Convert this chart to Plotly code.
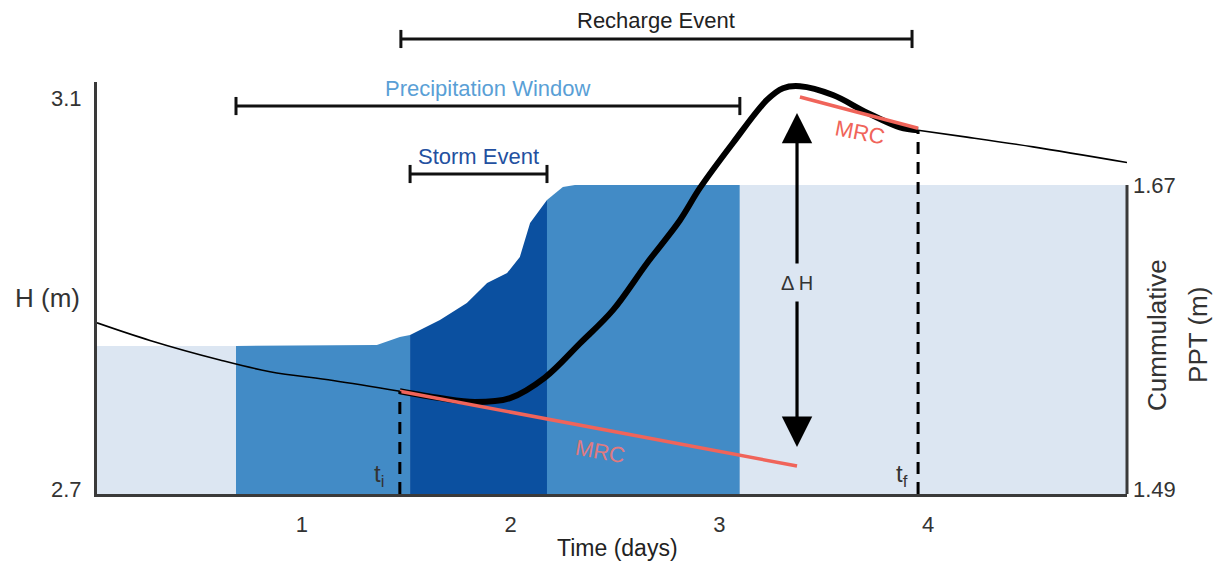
import numpy as np
import plotly.graph_objects as go

# ---------------- data ----------------
# groundwater head H (m) vs time (days)
h_pre_x = [0.018, 0.272, 0.607, 0.847, 1.149, 1.469]
h_pre_y = [2.870, 2.852, 2.832, 2.820, 2.811, 2.800]
h_event_x = [1.469, 1.661, 1.829, 1.997, 2.164, 2.332, 2.490, 2.653, 2.811, 2.907,
             3.065, 3.228, 3.305, 3.386, 3.544, 3.707, 3.865, 3.952]
h_event_y = [2.800, 2.793, 2.789, 2.793, 2.814, 2.849, 2.883, 2.931, 2.975, 3.008,
             3.054, 3.098, 3.110, 3.112, 3.103, 3.085, 3.070, 3.067]
h_post_x = [3.952, 4.186, 4.503, 4.953]
h_post_y = [3.067, 3.060, 3.050, 3.034]

# cumulative precipitation (m)
ppt_x = [0.018, 0.684, 1.359, 1.469, 1.518, 1.661, 1.790, 1.887, 1.983, 2.044,
         2.093, 2.174, 2.250, 2.308, 3.089, 4.953]
ppt_y = [1.5747, 1.5747, 1.5753, 1.5800, 1.5812, 1.5901, 1.6001, 1.6120, 1.6179, 1.6274,
         1.6475, 1.6611, 1.6688, 1.6700, 1.6700, 1.6700]

# master recession curves
mrc1_x = [1.469, 3.372]
mrc1_y = [2.800, 2.7235]
mrc2_x = [3.386, 3.952]
mrc2_y = [3.101, 3.069]

# event windows (days)
event_names = ["Recharge Event", "Precipitation Window", "Storm Event"]
event_start = [1.474, 0.684, 1.518]
event_end = [3.923, 3.098, 2.174]

t_i = 1.469
t_f = 3.952
dh_x = 3.372

# axes
x_range = [0.018, 4.953]
h_range = [2.69488, 3.11637]
ppt_range = [1.48704, 1.73099]
x_ticks = [1, 2, 3, 4]
h_ticks = [2.7, 3.1]
ppt_ticks = [1.49, 1.67]

# ---------------- styles ----------------
FONT = "Liberation Sans, Arial, sans-serif"
LIGHT = "#dce6f2"
MED = "#428bc6"
DARK = "#0b50a0"
MRC_COL = "#f0645a"
AX_COL = "#3a3a3a"
TXT = "#333333"

fig = go.Figure()

# precipitation segments coloured by window
px_ = np.array(ppt_x)
py_ = np.array(ppt_y)
pw0, pw1 = event_start[1], event_end[1]
s0, s1 = event_start[2], event_end[2]
bounds = [(x_range[0], pw0, LIGHT), (pw0, s0, MED), (s0, s1, DARK), (s1, pw1, MED), (pw1, x_range[1], LIGHT)]
for a, b, col in bounds:
    inner = px_[(px_ > a) & (px_ < b)]
    xs = np.concatenate([[a], inner, [b]])
    ys = np.interp(xs, px_, py_)
    fig.add_trace(go.Scatter(x=xs, y=ys, mode="lines", line=dict(width=0, color=col),
                             fill="tozeroy", fillcolor=col, yaxis="y", hoverinfo="skip",
                             showlegend=False))

# head lines (on overlaying axis so they are drawn on top)
fig.add_trace(go.Scatter(x=h_pre_x, y=h_pre_y, mode="lines", line=dict(color="black", width=1.6, shape="spline"),
                         yaxis="y2", showlegend=False))
fig.add_trace(go.Scatter(x=h_post_x, y=h_post_y, mode="lines", line=dict(color="black", width=1.6, shape="spline"),
                         yaxis="y2", showlegend=False))
fig.add_trace(go.Scatter(x=h_event_x, y=h_event_y, mode="lines", line=dict(color="black", width=6, shape="spline"),
                         yaxis="y2", showlegend=False))
# MRC lines
fig.add_trace(go.Scatter(x=mrc1_x, y=mrc1_y, mode="lines", line=dict(color=MRC_COL, width=3.5),
                         yaxis="y2", showlegend=False))
fig.add_trace(go.Scatter(x=mrc2_x, y=mrc2_y, mode="lines", line=dict(color=MRC_COL, width=3.5),
                         yaxis="y2", showlegend=False))
# t_i / t_f dashed lines
h_ti = np.interp(t_i, h_event_x, h_event_y)
h_tf = np.interp(t_f, h_event_x, h_event_y)
for t, h in [(t_i, h_ti), (t_f, h_tf)]:
    fig.add_trace(go.Scatter(x=[t, t], y=[h_range[0], h], mode="lines",
                             line=dict(color="black", width=3, dash="12px,8px"),
                             yaxis="y2", showlegend=False))

shapes = []
annotations = []
# event brackets
bar_y = [1.1044, 0.9417, 0.7767]
txt_y = [1.150, 0.9854, 0.818]
txt_col = ["#222222", "#5a9fd6", "#2350a0"]
cap = 0.022
for name, a, b, by, ty, tc in zip(event_names, event_start, event_end, bar_y, txt_y, txt_col):
    line = dict(color="#111111", width=3)
    shapes.append(dict(type="line", xref="x", yref="paper", x0=a, x1=b, y0=by, y1=by, line=line))
    shapes.append(dict(type="line", xref="x", yref="paper", x0=a, x1=a, y0=by - cap, y1=by + cap, line=line))
    shapes.append(dict(type="line", xref="x", yref="paper", x0=b, x1=b, y0=by - cap, y1=by + cap, line=line))
    annotations.append(dict(x=(a + b) / 2, y=ty, xref="x", yref="paper", text=name, showarrow=False,
                            font=dict(family=FONT, size=22, color=tc), xanchor="center", yanchor="middle"))

# right axis line (only over the precipitation span)
shapes.append(dict(type="line", xref="paper", yref="y", x0=1, x1=1, y0=ppt_range[0], y1=max(ppt_y),
                   line=dict(color=AX_COL, width=3)))

# delta H arrows
annotations.append(dict(x=dh_x, y=3.0847, ax=dh_x, ay=2.9292, xref="x", yref="y2", axref="x", ayref="y2",
                        showarrow=True, arrowhead=2, arrowsize=1.9, arrowwidth=3.2, arrowcolor="black", text=""))
annotations.append(dict(x=dh_x, y=2.7430, ax=dh_x, ay=2.8934, xref="x", yref="y2", axref="x", ayref="y2",
                        showarrow=True, arrowhead=2, arrowsize=1.9, arrowwidth=3.2, arrowcolor="black", text=""))
annotations.append(dict(x=dh_x, y=2.9107, xref="x", yref="y2", text="Δ H", showarrow=False,
                        xanchor="center", yanchor="middle", font=dict(family=FONT, size=20, color=TXT)))
# MRC labels
annotations.append(dict(x=2.428, y=2.7379, xref="x", yref="y2", text="MRC", showarrow=False, textangle=10,
                        xanchor="center", yanchor="middle", font=dict(family=FONT, size=22, color="#e07a80")))
annotations.append(dict(x=3.674, y=3.0652, xref="x", yref="y2", text="MRC", showarrow=False, textangle=11,
                        xanchor="center", yanchor="middle", font=dict(family=FONT, size=22, color=MRC_COL)))
# t labels
annotations.append(dict(x=1.369, y=2.7143, xref="x", yref="y2", text="t<sub>i</sub>", showarrow=False,
                        xanchor="center", yanchor="middle", font=dict(family=FONT, size=24, color=TXT)))
annotations.append(dict(x=3.875, y=2.7143, xref="x", yref="y2", text="t<sub>f</sub>", showarrow=False,
                        xanchor="center", yanchor="middle", font=dict(family=FONT, size=24, color=TXT)))
# axis titles
annotations.append(dict(x=-0.0476, y=0.476, xref="paper", yref="paper", text="H (m)", showarrow=False,
                        xanchor="center", yanchor="middle", font=dict(family=FONT, size=26, color=TXT)))
annotations.append(dict(x=1.0291, y=0.386, xref="paper", yref="paper", text="Cummulative",
                        showarrow=False, textangle=-90, xanchor="center", yanchor="middle",
                        font=dict(family=FONT, size=26, color=TXT)))
annotations.append(dict(x=1.0689, y=0.386, xref="paper", yref="paper", text="PPT (m)",
                        showarrow=False, textangle=-90, xanchor="center", yanchor="middle",
                        font=dict(family=FONT, size=26, color=TXT)))
annotations.append(dict(x=0.505, y=-0.131, xref="paper", yref="paper", text="Time (days)", showarrow=False,
                        xanchor="center", yanchor="middle", font=dict(family=FONT, size=23, color="#222")))

tickfont = dict(family=FONT, size=22, color=TXT)
fig.update_layout(
    width=1224, height=565, autosize=False,
    margin=dict(l=97, r=97, t=82, b=71),
    paper_bgcolor="white", plot_bgcolor="white",
    showlegend=False,
    xaxis=dict(range=x_range, tickvals=x_ticks, showgrid=False, zeroline=False, showline=True,
               linecolor=AX_COL, linewidth=3, ticks="", ticklabelstandoff=9, tickfont=tickfont),
    yaxis=dict(range=ppt_range, side="right", tickvals=ppt_ticks, ticktext=["1.49", "1.67"],
               showgrid=False, zeroline=False, showline=False, ticks="", ticklabelstandoff=5,
               tickfont=tickfont),
    yaxis2=dict(range=h_range, side="left", overlaying="y", tickvals=h_ticks, ticktext=["2.7", "3.1"],
                showgrid=False, zeroline=False, showline=True, linecolor=AX_COL, linewidth=3, ticks="",
                ticklabelstandoff=8, tickfont=tickfont),
    shapes=shapes, annotations=annotations,
)

# remove the default page margin so the figure fills the window exactly
fig.write_html("out.html", config={"displayModeBar": False},
               post_script="document.documentElement.style.margin='0';document.body.style.margin='0';"
                           "document.body.style.overflow='hidden';")
